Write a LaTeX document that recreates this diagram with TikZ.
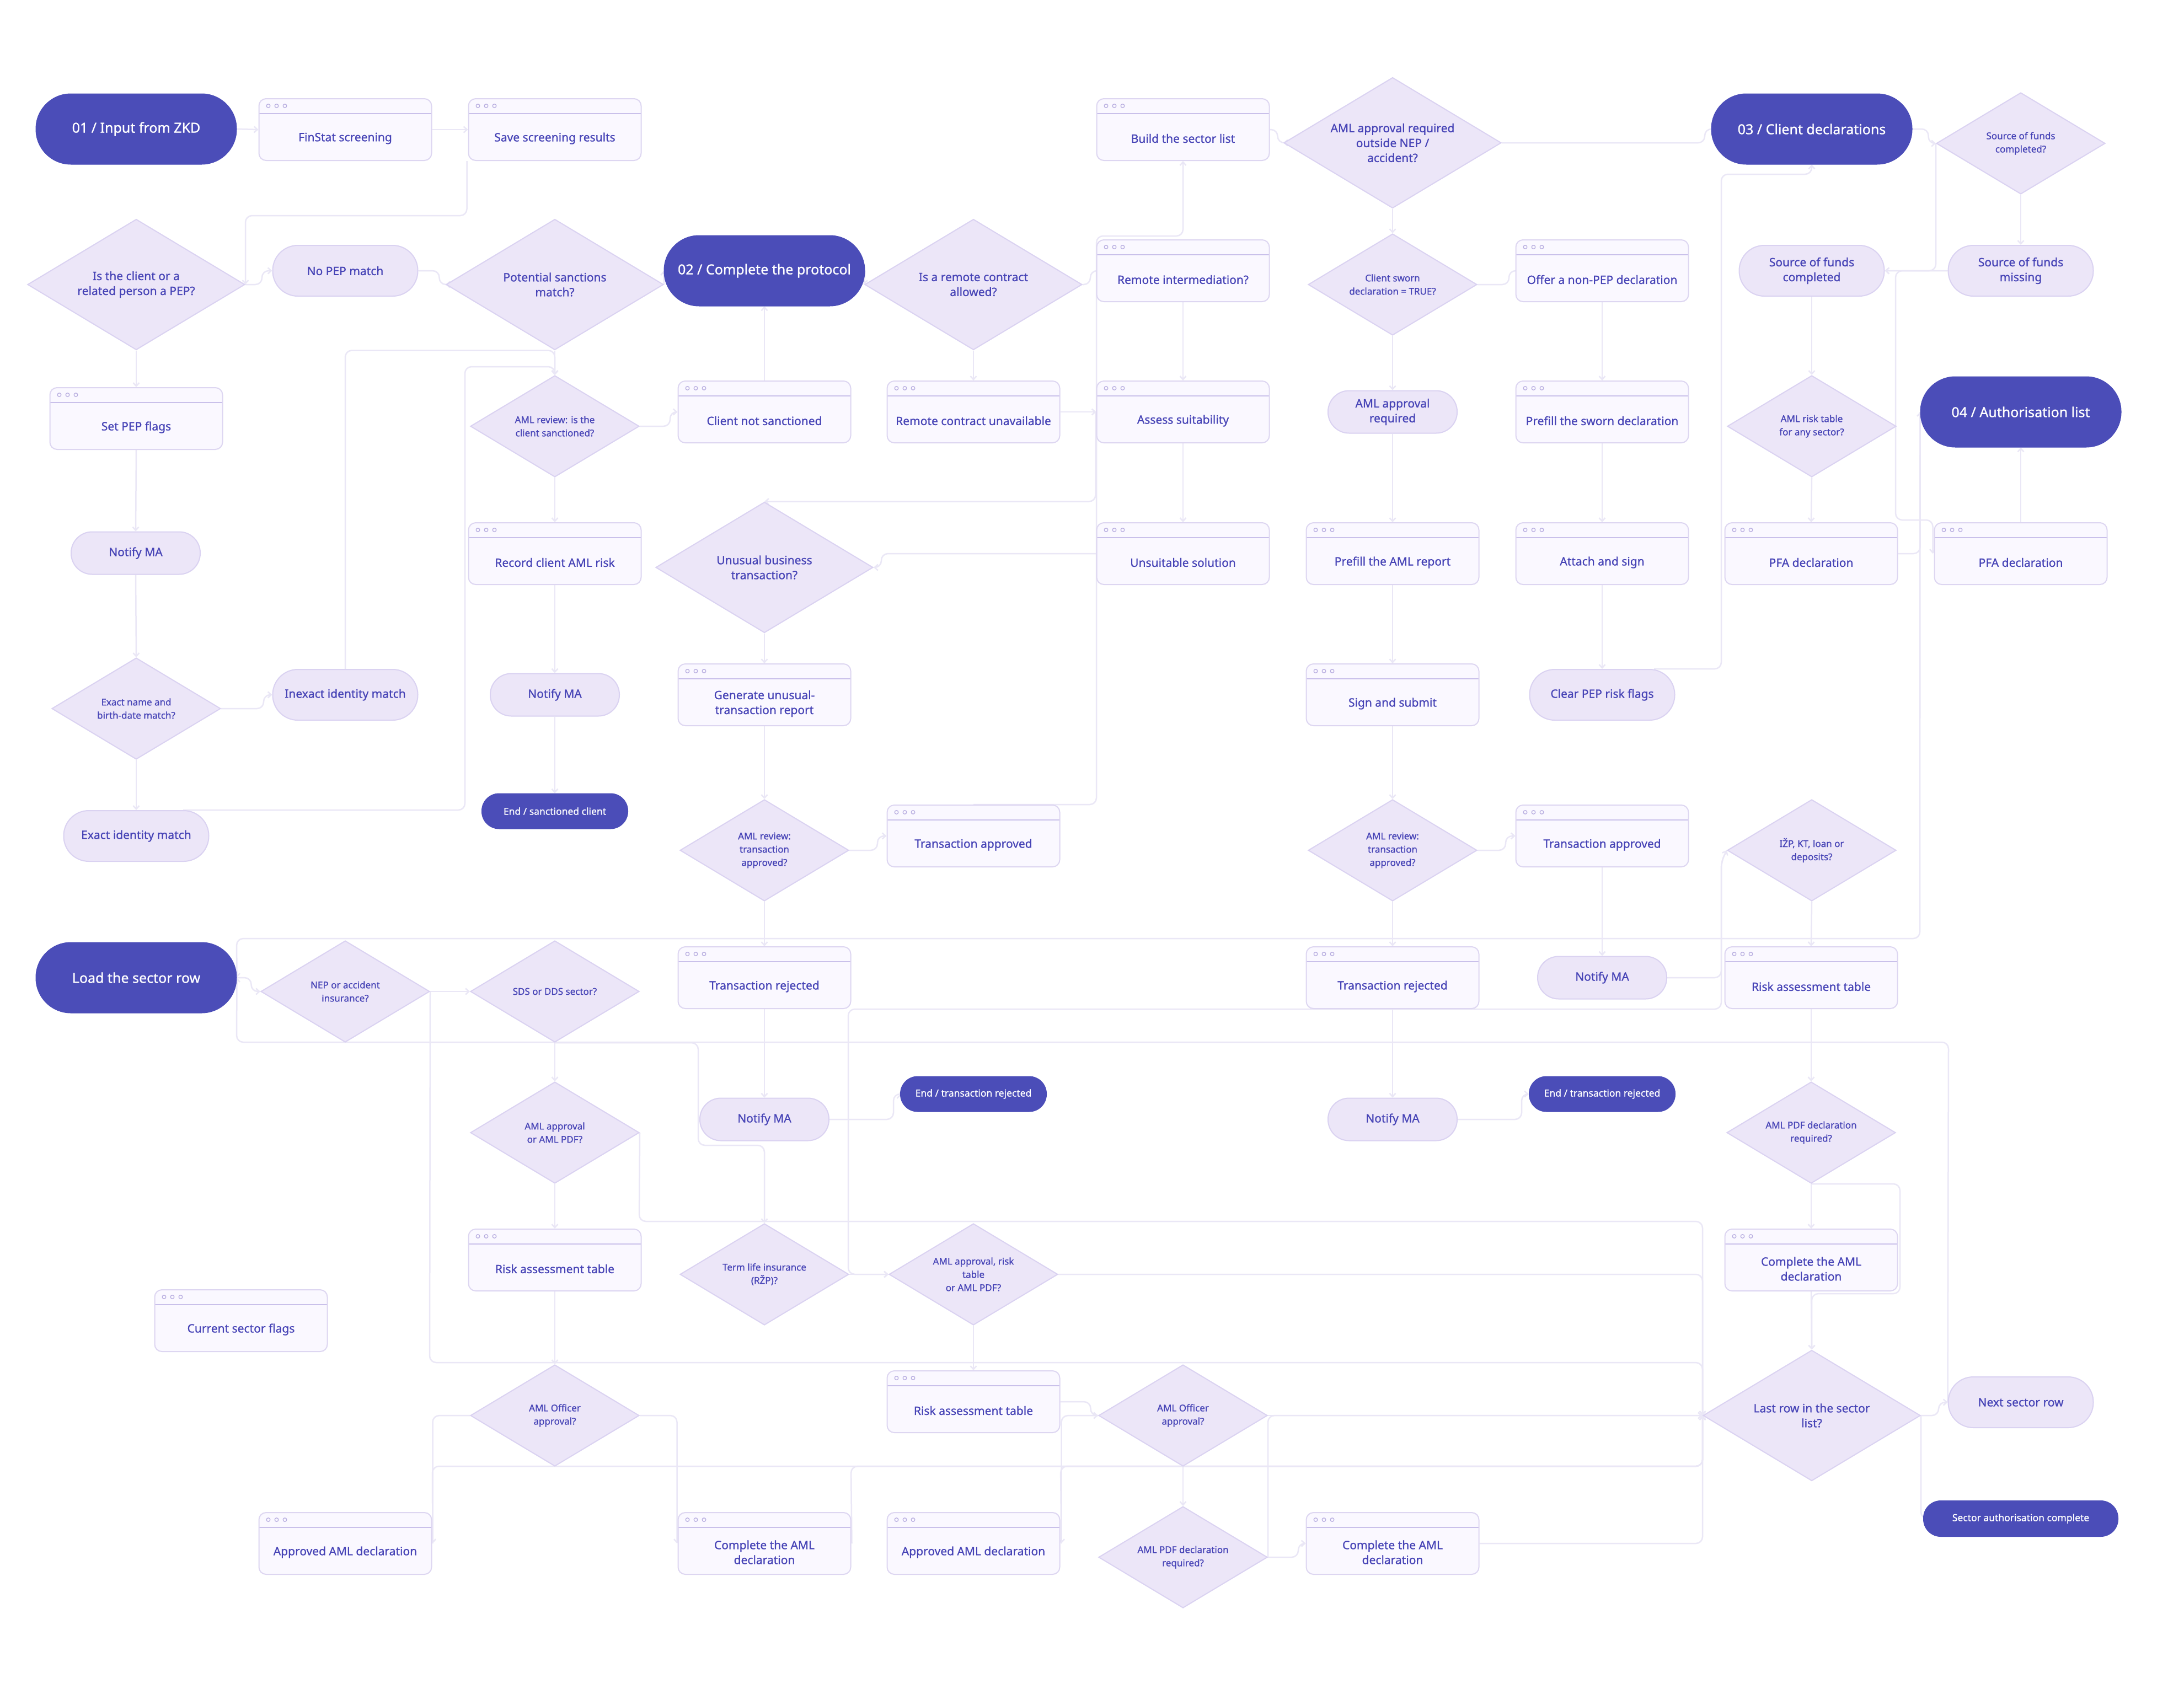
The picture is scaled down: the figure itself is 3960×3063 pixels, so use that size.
\documentclass[tikz,border=0pt]{standalone}
\usepackage{fontspec}
\setmainfont{Noto Sans}[FakeBold=0.9]
\usetikzlibrary{shapes.geometric,arrows.meta,backgrounds}

\definecolor{indigo}{RGB}{75,77,184}
\definecolor{ink}{RGB}{70,67,182}
\definecolor{pillbg}{RGB}{236,230,248}
\definecolor{pillln}{RGB}{218,210,241}
\definecolor{winbg}{RGB}{250,248,255}
\definecolor{winln}{RGB}{221,214,241}
\definecolor{hdrln}{RGB}{201,192,234}
\definecolor{dotln}{RGB}{184,174,224}
\definecolor{wire}{RGB}{234,231,246}

\begin{document}
\begin{tikzpicture}[x=1pt, y=-1pt,
	txt/.style={font=\fontsize{21}{27}\selectfont, text=ink, align=center},
	bqtxt/.style={font=\fontsize{21}{27}\selectfont, text=ink, align=center},
	qtxt/.style={font=\fontsize{17}{24}\selectfont, text=ink, align=center},
	term/.style={rectangle, rounded corners=63.5pt, fill=indigo, draw=indigo, line width=1pt, minimum width=364pt, minimum height=128pt, text=white, font=\fontsize{25}{30}\selectfont},
	termsmall/.style={term, rounded corners=31.5pt, minimum width=265pt, minimum height=64pt, font=\fontsize{17.5}{22}\selectfont},
	pill/.style={txt, rectangle, rounded corners=45.5pt, fill=pillbg, draw=pillln, line width=2pt, minimum width=263pt, minimum height=92pt},
	notify/.style={pill, rounded corners=38pt, minimum width=234pt, minimum height=77pt},
	window/.style={rectangle, rounded corners=13pt, fill=winbg, draw=winln, line width=2pt, minimum width=313pt, minimum height=112pt,
		path picture={
			\draw[hdrln, line width=2pt] ([yshift=-27pt]path picture bounding box.north west) -- ([yshift=-27pt]path picture bounding box.north east);
			\foreach \i in {0,1,2}
				\draw[dotln, line width=1.3pt] ([xshift={(17+15*\i)*1pt}, yshift=-13pt]path picture bounding box.north west) circle (3.3pt);
		}},
	wlabel/.style={label={[txt, yshift=-16pt]center:#1}},
	bigq/.style={bqtxt, diamond, aspect=1.66, inner sep=0pt, fill=pillbg, draw=pillln, line width=2pt, minimum width=394pt, minimum height=237pt},
	smallq/.style={bigq, qtxt, minimum width=306pt, minimum height=184pt},
	flow/.style={draw=wire, line width=2.5pt, rounded corners=12pt, -{Straight Barb[length=6pt, width=11pt]}},
]

\useasboundingbox (0,0) rectangle (3960,3063);

	%% Row 1
	\node[term] (s01) at (247,234) {01 / Input from ZKD};
	\node[window, wlabel={FinStat screening}] (finstat) at (626,235) {};
	\node[window, wlabel={Save screening results}] (savescr) at (1006,235) {};
	\node[window, wlabel={Build the sector list}] (buildlist) at (2145,235) {};
	\node[bigq] (qoutside) at (2525,259) {AML approval required\\outside NEP /\\accident?};
	\node[term] (s03) at (3285,234) {03 / Client declarations};
	\node[smallq] (qfunds) at (3664,260) {Source of funds\\completed?};

	%% Row 2
	\node[bigq] (qpep) at (247,516) {Is the client or a\\related person a PEP?};
	\node[pill] (nopep) at (626,491) {No PEP match};
	\node[bigq] (qsanc) at (1006,516) {Potential sanctions\\match?};
	\node[term] (s02) at (1386,491) {02 / Complete the protocol};
	\node[bigq] (qremote) at (1765,516) {Is a remote contract\\allowed?};
	\node[window, wlabel={Remote intermediation?}] (remoteint) at (2145,491) {};
	\node[smallq] (qsworn) at (2525,516) {Client sworn\\declaration = TRUE?};
	\node[window, wlabel={Offer a non-PEP declaration}] (nonpep) at (2905,491) {};
	\node[pill] (sfdone) at (3285,491) {Source of funds\\completed};
	\node[pill] (sfmiss) at (3664,491) {Source of funds\\missing};

	%% Row 3
	\node[window, wlabel={Set PEP flags}] (pepflags) at (247,759) {};
	\node[smallq] (qreview) at (1006,773) {AML review: is the\\client sanctioned?};
	\node[window, wlabel={Client not sanctioned}] (notsanc) at (1386,747) {};
	\node[window, wlabel={Remote contract unavailable}] (remoteno) at (1765,747) {};
	\node[window, wlabel={Assess suitability}] (suit) at (2145,747) {};
	\node[notify] (amlreq) at (2525,747) {AML approval\\required};
	\node[window, wlabel={Prefill the sworn declaration}] (prefsworn) at (2905,747) {};
	\node[smallq] (qrisktab) at (3285,773) {AML risk table\\for any sector?};
	\node[term] (s04) at (3664,747) {04 / Authorisation list};

	%% Row 4
	\node[notify] (notifyA) at (246,1003) {Notify MA};
	\node[window, wlabel={Record client AML risk}] (recrisk) at (1006,1004) {};
	\node[bigq] (qunusual) at (1386,1029) {Unusual business\\transaction?};
	\node[window, wlabel={Unsuitable solution}] (unsuit) at (2145,1004) {};
	\node[window, wlabel={Prefill the AML report}] (prefaml) at (2525,1004) {};
	\node[window, wlabel={Attach and sign}] (attach) at (2905,1004) {};
	\node[window, wlabel={PFA declaration}] (pfaA) at (3284,1004) {};
	\node[window, wlabel={PFA declaration}] (pfaB) at (3664,1004) {};

	%% Row 5
	\node[smallq] (qexact) at (247,1285) {Exact name and\\birth-date match?};
	\node[pill] (inexact) at (626,1260) {Inexact identity match};
	\node[notify] (notifyB) at (1006,1260) {Notify MA};
	\node[window, wlabel={Generate unusual-\\transaction report}] (genrep) at (1386,1260) {};
	\node[window, wlabel={Sign and submit}] (signsub) at (2525,1260) {};
	\node[pill] (clearpep) at (2905,1260) {Clear PEP risk flags};

	%% Row 6
	\node[pill] (exact) at (247,1516) {Exact identity match};
	\node[termsmall] (endsanc) at (1006,1471) {End / sanctioned client};
	\node[smallq] (qtxA) at (1386,1542) {AML review:\\transaction\\approved?};
	\node[window, wlabel={Transaction approved}] (txokA) at (1765,1516) {};
	\node[smallq] (qtxB) at (2525,1542) {AML review:\\transaction\\approved?};
	\node[window, wlabel={Transaction approved}] (txokB) at (2905,1516) {};
	\node[smallq] (qizp) at (3285,1542) {IŽP, KT, loan or\\deposits?};

	%% Row 7
	\node[term] (loadrow) at (247,1773) {Load the sector row};
	\node[smallq] (qnep) at (626,1798) {NEP or accident\\insurance?};
	\node[smallq] (qsds) at (1006,1798) {SDS or DDS sector?};
	\node[window, wlabel={Transaction rejected}] (txrejA) at (1386,1773) {};
	\node[window, wlabel={Transaction rejected}] (txrejB) at (2525,1773) {};
	\node[notify] (notifyC) at (2905,1773) {Notify MA};
	\node[window, wlabel={Risk assessment table}] (riskR) at (3284,1773) {};

	%% Row 8
	\node[smallq] (qamlpdf) at (1006,2054) {AML approval\\or AML PDF?};
	\node[notify] (notifyD) at (1386,2030) {Notify MA};
	\node[termsmall] (endrejA) at (1765,1984) {End / transaction rejected};
	\node[notify] (notifyE) at (2525,2030) {Notify MA};
	\node[termsmall] (endrejB) at (2905,1984) {End / transaction rejected};
	\node[smallq] (qpdfR) at (3284,2054) {AML PDF declaration\\required?};

	%% Row 9
	\node[window, wlabel={Current sector flags}] (flags) at (437,2395) {};
	\node[window, wlabel={Risk assessment table}] (riskL) at (1006,2285) {};
	\node[smallq] (qrzp) at (1386,2311) {Term life insurance\\(RŽP)?};
	\node[smallq] (qmix) at (1765,2311) {AML approval, risk\\table\\or AML PDF?};
	\node[window, wlabel={Complete the AML\\declaration}] (amlR) at (3284,2285) {};

	%% Row 10
	\node[smallq] (qoffL) at (1006,2567) {AML Officer\\approval?};
	\node[window, wlabel={Risk assessment table}] (riskM) at (1765,2542) {};
	\node[smallq] (qoffM) at (2145,2567) {AML Officer\\approval?};
	\node[bigq] (qlast) at (3285,2567) {Last row in the sector\\list?};
	\node[pill] (nextrow) at (3664,2543) {Next sector row};

	%% Row 11
	\node[window, wlabel={Approved AML declaration}] (apprL) at (626,2799) {};
	\node[window, wlabel={Complete the AML\\declaration}] (complL) at (1386,2799) {};
	\node[window, wlabel={Approved AML declaration}] (apprM) at (1765,2799) {};
	\node[smallq] (qpdfM) at (2145,2824) {AML PDF declaration\\required?};
	\node[window, wlabel={Complete the AML\\declaration}] (complM) at (2525,2799) {};
	\node[termsmall, minimum width=353pt, minimum height=65pt] (secdone) at (3664,2754) {Sector authorisation complete};

\begin{scope}[on background layer]
	\fill[white] (0,0) rectangle (3960,3063);

	%% Screening
	\draw[flow] (s01.east) -- (finstat.west);
	\draw[flow] (finstat.east) -- (savescr.west);
	\draw[flow] ([xshift=-2pt]savescr.south west) -- ++(0,99) -| (qpep.east);
	\draw[flow] (qpep.east) -- ++(30,0) |- (nopep.west);
	\draw[flow] (nopep.east) -- ++(38,0) |- (qsanc.west);
	\draw[flow] (qpep.south) -- (pepflags.north);
	\draw[flow] (pepflags.south) -- (notifyA.north);
	\draw[flow] (notifyA.south) -- (qexact.north);
	\draw[flow] (qexact.south) -- (exact.north);
	\draw[flow] (qexact.east) -- ++(77,0) |- (inexact.west);
	\draw[flow] (inexact.north) |- (qsanc.south) -- (qreview.north);
	\draw[flow] ([xshift=85pt]exact.north) -| (843,665) -| (qreview.north);
	\draw[flow] (qsanc.south) -- (qreview.north);
	\draw[flow] (qreview.east) -- ++(55,0) |- (notsanc.west);
	\draw[flow] (qreview.south) -- (recrisk.north);
	\draw[flow] (recrisk.south) -- (notifyB.north);
	\draw[flow] (notifyB.south) -- (endsanc.north);
	\draw[flow] (notsanc.north) -- (s02.south);
	\draw[flow] (qsanc.east) -- (s02.west);

	%% Protocol
	\draw[flow] (s02.east) -- (qremote.west);
	\draw[flow] (qremote.east) -- ++(14,0) |- (remoteint.west);
	\draw[flow] (qremote.south) -- (remoteno.north);
	\draw[flow] (remoteno.east) -- (suit.west);
	\draw[flow] (remoteint.south) -- (suit.north);
	\draw[flow] (txokA.north) -| (1988,428) -| (buildlist.south);
	\draw[flow] ([xshift=-1pt]suit.west) |- (qunusual.north);
	\draw[flow] (unsuit.west) -- (1598,1004) |- (qunusual.east);
	\draw[flow] (suit.south) -- (unsuit.north);
	\draw[flow] (qunusual.south) -- (genrep.north);
	\draw[flow] (genrep.south) -- (qtxA.north);
	\draw[flow] (qtxA.east) -- ++(51,0) |- (txokA.west);
	\draw[flow] (qtxA.south) -- (txrejA.north);
	\draw[flow] (txrejA.south) -- (notifyD.north);
	\draw[flow] (notifyD.east) -- ++(116,0) |- (endrejA.west);

	%% Sector list and declarations
	\draw[flow] (buildlist.east) -- ++(14,0) |- (qoutside.west);
	\draw[flow] (qoutside.east) -- ++(368,0) |- (s03.west);
	\draw[flow] (qoutside.south) -- (qsworn.north);
	\draw[flow] (qsworn.east) -- ++(57,0) |- (nonpep.west);
	\draw[flow] (qsworn.south) -- (amlreq.north);
	\draw[flow] (amlreq.south) -- (prefaml.north);
	\draw[flow] (nonpep.south) -- (prefsworn.north);
	\draw[flow] (prefsworn.south) -- (attach.north);
	\draw[flow] (prefaml.south) -- (signsub.north);
	\draw[flow] (attach.south) -- (clearpep.north);
	\draw[flow] ([xshift=94pt]clearpep.north) -| (3121,316) -| (s03.south);
	\draw[flow] (signsub.south) -- (qtxB.north);
	\draw[flow] (qtxB.east) -- ++(51,0) |- (txokB.west);
	\draw[flow] (qtxB.south) -- (txrejB.north);
	\draw[flow] (txrejB.south) -- (notifyE.north);
	\draw[flow] (notifyE.east) -- ++(116,0) |- (endrejB.west);
	\draw[flow] (txokB.south) -- (notifyC.north);
	\draw[flow] (notifyC.east) -| (3121,1562) -- (qizp.west);
	\draw[flow] (qizp.west) -- (3121,1562) |- (1538,1830) |- (qmix.west);

	%% Client declarations
	\draw[flow] (s03.east) -- ++(29,0) |- (qfunds.west);
	\draw[flow] (qfunds.west) |- (sfdone.east);
	\draw[flow] (qfunds.south) -- (sfmiss.north);
	\draw[flow] (sfmiss.west) -- (sfdone.east);
	\draw[flow] (sfmiss.west) -| (3437,943) -| ([xshift=-2pt]pfaB.west);
	\draw[flow] (sfdone.south) -- (qrisktab.north);
	\draw[flow] (qrisktab.south) -- (pfaA.north);
	\draw[flow] (pfaB.north) -- (s04.south);
	\draw[flow] (pfaA.east) -| (s04.west);

	%% Sector loop
	\draw[flow] (s04.west) -- (3481,1702) -- (429,1702) -- (loadrow.east);
	\draw[flow] (nextrow.west) -- (3533,1890) -- (429,1890) -- (loadrow.east);
	\draw[flow] (loadrow.east) -- ++(26,0) |- (qnep.west);
	\draw[flow] (qnep.east) -- (qsds.west);
	\draw[flow] (qnep.east) -- (779,2471) -| (qlast.west);
	\draw[flow] (qsds.south) -- (qamlpdf.north);
	\draw[flow] (qsds.south) -| (1266,2077) -| (qrzp.north);
	\draw[flow] (qamlpdf.east) -- (1159,2215) -| (qlast.west);
	\draw[flow] (qamlpdf.south) -- (riskL.north);
	\draw[flow] (riskL.south) -- (qoffL.north);
	\draw[flow] (qoffL.west) -| ([xshift=1pt]apprL.east);
	\draw[flow] (qoffL.east) -| ([xshift=-1pt]complL.west);
	\draw[flow] ([xshift=1pt]apprL.east) -- (784,2659) -| (qlast.west);
	\draw[flow] ([xshift=1pt]complL.east) -- (1543,2659) -| (qlast.west);
	\draw[flow] ([xshift=2pt]apprM.east) -- (1923,2659) -| (qlast.west);
	\draw[flow] (qrzp.east) -- (qmix.west);
	\draw[flow] (qmix.east) -| (qlast.west);
	\draw[flow] (qmix.south) -- (riskM.north);
	\draw[flow] (riskM.east) -- ++(55,0) |- (qoffM.west);
	\draw[flow] (qoffM.west) -| ([xshift=2pt]apprM.east);
	\draw[flow] (qoffM.east) -- (qlast.west);
	\draw[flow] (qoffM.south) -- (qpdfM.north);
	\draw[flow] (qpdfM.east) -- ++(55,0) |- (complM.west);
	\draw[flow] (qpdfM.east) |- (qlast.west);
	\draw[flow] (complM.east) -| (qlast.west);

	%% Risk table column
	\draw[flow] (qizp.south) -- (riskR.north);
	\draw[flow] (riskR.south) -- (qpdfR.north);
	\draw[flow] (qpdfR.south) -- (amlR.north);
	\draw[flow] (qpdfR.south) -| (3445,2346) -| (qlast.north);
	\draw[flow] (amlR.south) -- (qlast.north);
	\draw[flow] (qlast.east) -- ++(32,0) |- (nextrow.west);
	\draw[flow] (qlast.east) |- (secdone.west);
\end{scope}

\end{tikzpicture}
\end{document}
